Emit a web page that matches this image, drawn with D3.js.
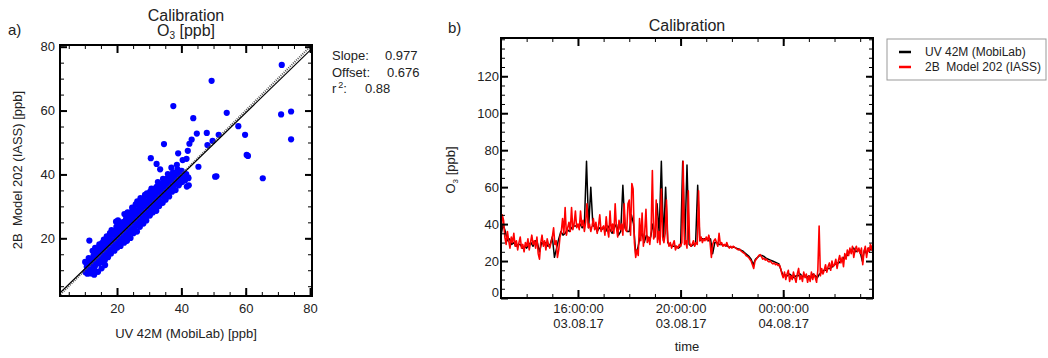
<!DOCTYPE html>
<html>
<head>
<meta charset="utf-8">
<script src="https://cdn.jsdelivr.net/npm/d3@7"></script>
<style>
body { margin: 0; background: #fff; }
svg { font-family: "Liberation Sans", Arial, sans-serif; }
text { fill: #222; }
</style>
</head>
<body>
<svg id="chart" width="1048" height="358"></svg>
<script>
// scatter: [UV 42M, 2B Model 202]
const scatterPoints = [
  [71.2,74.3],[49.4,69.3],[37.5,61.4],[54.1,59.3],[71.0,58.8],[74.1,59.7],[43.7,57.6],[57.7,55.1],
  [47.9,53.0],[44.8,52.8],[51.6,52.4],[59.8,52.4],[43.2,50.9],[42.5,49.6],[49.7,50.5],[48.1,49.2],
  [74.1,51.0],[34.6,49.5],[39.0,46.6],[42.0,47.4],[60.3,46.1],[60.7,45.8],[30.5,45.1],[40.4,44.5],
  [41.6,44.9],[32.3,43.3],[45.3,42.4],[50.5,39.3],[50.9,39.4],[65.3,38.8],[41.7,36.2],[42.2,38.8],
  [11.4,19.3],[19.7,25.2],[33.4,41.6],[38.6,43.0],[36.9,42.1],
  [10.2,9.4],[10.6,11.1],[10.1,12.6],[10.8,8.9],[11.3,10.3],[11.6,12.2],[11.2,13.8],[11.9,9.0],
  [12.2,10.1],[12.5,11.6],[12.1,13.2],[12.7,14.6],[12.4,16.1],[12.9,8.6],[13.3,9.6],[13.1,11.2],
  [13.6,12.5],[13.4,14.1],[13.8,15.6],[13.2,17.0],[14.1,9.5],[14.3,12.1],[14.6,13.4],[14.2,15.1],
  [14.8,16.6],[14.5,18.1],[15.2,10.6],[15.3,12.6],[15.6,14.1],[15.1,15.4],[15.7,17.1],[15.4,18.6],
  [15.9,19.6],[16.2,13.1],[16.5,14.6],[16.1,16.0],[16.7,17.4],[16.4,19.1],[16.8,20.6],[16.3,11.6],
  [17.2,14.1],[17.6,15.5],[17.1,17.1],[17.5,18.6],[17.3,20.1],[17.8,21.6],[18.1,15.2],[18.4,16.6],
  [18.7,18.1],[18.2,19.4],[18.6,21.1],[18.3,22.6],[19.2,16.1],[19.5,17.6],[19.1,19.1],[19.7,20.6],
  [19.4,22.0],[19.8,23.6],[20.1,17.1],[20.5,18.6],[20.2,20.1],[20.7,21.4],[20.4,23.1],[20.8,24.6],
  [20.3,25.6],[21.1,17.6],[21.6,19.1],[21.2,20.6],[21.5,22.1],[21.3,23.6],[21.8,25.1],[22.2,18.6],
  [22.5,20.1],[22.1,21.6],[22.7,23.1],[22.4,24.6],[22.8,26.1],[22.3,27.6],[23.1,19.2],[23.5,21.1],
  [23.2,22.6],[23.7,24.1],[23.4,25.6],[23.8,27.0],[23.3,28.1],[24.2,20.1],[24.6,22.1],[24.1,23.6],
  [24.5,25.1],[24.8,26.6],[24.3,28.1],[24.7,29.6],[25.1,21.6],[25.4,23.1],[25.7,24.6],[25.2,26.1],
  [25.6,27.6],[25.3,29.1],[25.8,30.6],[26.2,22.1],[26.5,24.1],[26.1,25.6],[26.7,27.1],[26.4,28.6],
  [26.8,30.1],[26.3,31.6],[27.1,23.6],[27.5,25.1],[27.2,26.6],[27.7,28.1],[27.4,29.6],[27.8,31.1],
  [27.3,32.6],[28.2,24.6],[28.6,26.1],[28.1,27.6],[28.5,29.1],[28.8,30.6],[28.3,32.1],[28.7,33.6],
  [29.1,25.6],[29.5,27.1],[29.2,28.6],[29.7,30.1],[29.4,31.6],[29.8,33.1],[29.3,34.1],[30.2,27.1],
  [30.6,28.6],[30.1,30.1],[30.5,31.6],[30.8,33.1],[30.3,34.6],[30.7,35.6],[31.1,28.1],[31.5,29.6],
  [31.2,31.1],[31.7,32.6],[31.4,34.1],[31.8,35.6],[32.2,28.6],[32.6,30.1],[32.1,31.6],[32.5,33.1],
  [32.8,34.6],[32.3,36.1],[32.7,37.6],[33.1,30.1],[33.5,31.6],[33.2,33.1],[33.7,34.6],[33.4,36.1],
  [33.8,37.1],[34.2,31.1],[34.6,33.1],[34.1,34.6],[34.5,36.1],[34.8,37.6],[34.3,38.6],[35.1,32.1],
  [35.5,34.1],[35.2,35.6],[35.7,37.1],[35.4,38.6],[35.8,40.1],[36.2,33.1],[36.6,35.1],[36.1,36.6],
  [36.5,38.1],[36.8,39.6],[37.1,34.6],[37.5,36.1],[37.2,37.6],[37.7,39.1],[37.4,40.6],[38.2,35.1],
  [38.6,37.1],[38.1,38.6],[38.5,40.1],[38.8,41.6],[39.2,36.6],[39.6,38.6],[39.1,40.1],[40.2,37.6],
  [40.6,39.1],[40.1,41.1],[41.1,38.1],[41.5,40.1],[42.3,36.6],[42.1,39.1]
];
const fitSlope = 0.977, fitOffset = 0.676, fitR2 = 0.88;
const scatterTicks = [20, 40, 60, 80];

// time series from 13:00 on 03.08.17
const seriesStart = "2017-08-03 13:00";
const uvStepMinutes = 5;
const uvSeries = [
  34, 40, 36, 31, 32, 29, 30, 28, 29, 29, 27, 28,
  27, 29, 30, 28, 31, 30, 25, 30, 29, 30, 28, 29,
  33, 22, 27, 32, 36, 34, 35, 37, 36, 38, 39, 39,
  39, 40, 38, 40, 74, 38, 60, 39, 39, 36, 38, 37,
  38, 36, 39, 37, 35, 38, 40, 34, 36, 61, 38, 36,
  36, 45, 40, 24, 27, 33, 35, 30, 34, 32, 33, 40,
  33, 51, 35, 74, 31, 60, 30, 29, 28, 28, 28, 27,
  28, 74, 30, 72, 29, 28, 29, 29, 61, 31, 32, 32,
  32, 31, 32, 24, 30, 30, 29, 29, 28.5, 28.5, 28, 27.5,
  27.5, 27.5, 27, 26.5, 26, 25.5, 24.5, 23.5, 22.5, 21, 18, 21,
  22, 23, 23, 22.5, 21.5, 21, 20.5, 20, 19.5, 19, 18.5, 15,
  12, 12.5, 12, 13, 12, 11, 12, 12, 13, 11.5, 12, 11,
  12, 11, 13, 12, 11, 13, 14, 15, 15, 16, 16, 17,
  18, 19, 19, 20, 21, 23, 23, 25, 26, 27, 25, 26,
  25, 20, 26, 24, 27, 26, 29
];
const bbStepMinutes = 3;
const bbSeries = [
  34, 45, 42, 33, 29, 36, 31, 27, 33, 30, 35, 28, 31, 26, 30, 33, 27, 29, 25, 30,
  28, 32, 26, 30, 34, 29, 31, 27, 33, 24, 21, 30, 34, 28, 31, 26, 32, 29, 27, 30,
  33, 38, 29, 31, 22, 26, 33, 36, 43, 35, 49, 34, 38, 41, 36, 49, 37, 40, 47, 38,
  40, 37, 47, 39, 42, 36, 41, 51, 38, 40, 36, 39, 43, 37, 41, 35, 39, 45, 36, 38,
  39, 34, 44, 37, 33, 47, 36, 40, 35, 51, 38, 33, 42, 37, 40, 34, 51, 37, 36, 51,
  53, 34, 62, 59, 30, 22, 26, 23, 43, 31, 46, 28, 35, 48, 30, 33, 29, 36, 69, 32,
  34, 53, 30, 36, 29, 59, 33, 30, 35, 53, 31, 28, 30, 27, 29, 31, 26, 28, 27, 29,
  28, 30, 74, 29, 31, 27, 58, 30, 28, 29, 31, 28, 30, 29, 58, 31, 33, 30, 32, 31,
  33, 31, 34, 30, 22, 29, 31, 32, 30, 28, 35, 29, 30, 28, 29, 28, 30, 28, 27, 28,
  27, 28, 27.5, 27, 26.5, 26, 26.5, 25.5, 25, 24.5, 24, 23, 22.5, 22, 21, 20, 18, 16, 20, 21,
  22, 23, 23.5, 22.5, 21, 21.5, 20.5, 21, 20, 19.5, 20, 19, 18.5, 19, 18, 18.5, 17.5, 18, 16, 13,
  11, 14, 10, 13, 15, 9, 12, 10, 14, 11, 8.5, 13, 16, 10, 12, 9, 14, 11, 13, 8.5,
  12, 9, 14, 10, 13, 11, 8.5, 15, 39, 12, 16, 13, 15, 18, 14, 17, 19, 15, 20, 17,
  18, 21, 16, 20, 23, 19, 22, 17, 24, 21, 26, 23, 27, 24, 28, 22, 26, 28, 25, 27,
  24, 27, 18, 25, 28, 22, 27, 25, 29, 26, 29.5
];
const seriesNames = ["UV 42M (MobiLab)", "2B  Model 202 (IASS)"];
const seriesColors = ["#000", "#f00"];
const timeMajor = ["2017-08-03 16:00", "2017-08-03 20:00", "2017-08-04 00:00"];
const timeDomain = ["2017-08-03 13:00", "2017-08-04 03:30"];
const o3Ticks = [0, 20, 40, 60, 80, 100, 120];

const parse = d3.timeParse("%Y-%m-%d %H:%M");
const svg = d3.select("#chart");

function tickSide(axisFn, scale, values, size, width, transform) {
  svg.append("g")
    .attr("transform", transform)
    .call(axisFn(scale).tickValues(values).tickSize(-size).tickFormat(""))
    .call(g => g.select(".domain").remove())
    .call(g => g.selectAll("line").attr("stroke", "#000").attr("stroke-width", width));
}

function frameTicks(box, x, y, xMinor, xMajor, yMinor, yMajor) {
  [[xMinor, 4, 1], [xMajor, 8, 2]].forEach(([v, s, w]) => {
    tickSide(d3.axisBottom, x, v, s, w, `translate(0,${box.bottom})`);
    tickSide(d3.axisTop, x, v, s, w, `translate(0,${box.top})`);
  });
  [[yMinor, 4, 1], [yMajor, 7, 2]].forEach(([v, s, w]) => {
    tickSide(d3.axisLeft, y, v, s, w, `translate(${box.left},0)`);
    tickSide(d3.axisRight, y, v, s, w, `translate(${box.right},0)`);
  });
  svg.append("rect")
    .attr("x", box.left).attr("y", box.top)
    .attr("width", box.right - box.left).attr("height", box.bottom - box.top)
    .attr("fill", "none").attr("stroke", "#000").attr("stroke-width", 2);
}

function labelAxis(axis, transform) {
  const g = svg.append("g")
    .attr("transform", transform)
    .call(axis.tickSize(0))
    .call(g => g.select(".domain").remove())
    .attr("font-family", null).attr("font-size", 13);
  g.selectAll("text").attr("fill", "#222");
  return g;
}

// ---- a) scatter
const sc = {left: 60, top: 45, right: 312, bottom: 296};
const sx = d3.scaleLinear().domain([2.28, 80.6]).range([sc.left, sc.right]);
const sy = d3.scaleLinear().domain([1.93, 80.53]).range([sc.bottom, sc.top]);
const fives = d3.range(5, 81, 5);

svg.append("clipPath").attr("id", "clipA")
  .append("rect").attr("x", sc.left).attr("y", sc.top)
  .attr("width", sc.right - sc.left).attr("height", sc.bottom - sc.top);

svg.append("g").attr("clip-path", "url(#clipA)")
  .selectAll("circle")
  .data(scatterPoints)
  .join("circle")
  .attr("cx", d => sx(d[0]))
  .attr("cy", d => sy(d[1]))
  .attr("r", 3.1)
  .attr("fill", "#0000ff");

const lineA = svg.append("g").attr("clip-path", "url(#clipA)");
lineA.append("line")
  .attr("x1", sx(0)).attr("y1", sy(0)).attr("x2", sx(85)).attr("y2", sy(85))
  .attr("stroke", "#555").attr("stroke-width", 2).attr("stroke-dasharray", "1,1.2");
lineA.append("line")
  .attr("x1", sx(0)).attr("y1", sy(fitOffset)).attr("x2", sx(85)).attr("y2", sy(fitSlope * 85 + fitOffset))
  .attr("stroke", "#000").attr("stroke-width", 1.2);

frameTicks(sc, sx, sy, fives, scatterTicks, fives, scatterTicks);
labelAxis(d3.axisBottom(sx).tickValues(scatterTicks).tickPadding(7.5), `translate(0,${sc.bottom})`);
labelAxis(d3.axisLeft(sy).tickValues(scatterTicks).tickPadding(5), `translate(${sc.left},0)`);

svg.append("text").attr("x", 8).attr("y", 35).attr("font-size", 15).text("a)");
svg.append("text").attr("x", 186).attr("y", 21).attr("font-size", 16)
  .attr("text-anchor", "middle").text("Calibration");
const subA = svg.append("text").attr("x", 186).attr("y", 36).attr("font-size", 16).attr("text-anchor", "middle");
subA.append("tspan").text("O");
subA.append("tspan").attr("font-size", 10).attr("dy", 3).text("3");
subA.append("tspan").attr("dy", -3).text(" [ppb]");

svg.append("text").attr("x", 186).attr("y", 338).attr("font-size", 13)
  .attr("text-anchor", "middle").text("UV 42M (MobiLab) [ppb]");
svg.append("text").attr("transform", "translate(22,170) rotate(-90)").attr("font-size", 13)
  .attr("text-anchor", "middle").style("white-space", "pre").text("2B  Model 202 (IASS) [ppb]");

const stats = [["Slope:", fitSlope.toFixed(3), 385], ["Offset:", fitOffset.toFixed(3), 387], ["r", fitR2.toFixed(2), 365]];
stats.forEach(([lab, val, vx], i) => {
  const y = 60 + i * 16.5;
  const t = svg.append("text").attr("x", 332).attr("y", y).attr("font-size", 13).text(lab);
  if (lab === "r") {
    t.append("tspan").attr("font-size", 9).attr("dy", -5).attr("dx", 2).text("2");
    t.append("tspan").attr("dy", 5).text(":");
  }
  svg.append("text").attr("x", vx).attr("y", y).attr("font-size", 13).text(val);
});

// ---- b) time series
const tb = {left: 501, top: 38, right: 873, bottom: 298};
const start = parse(seriesStart);
const tx = d3.scaleTime().domain(timeDomain.map(parse)).range([tb.left, tb.right]);
const ty = d3.scaleLinear().domain([0, 140.7]).range([tb.bottom, tb.top]);

svg.append("clipPath").attr("id", "clipB")
  .append("rect").attr("x", tb.left).attr("y", tb.top)
  .attr("width", tb.right - tb.left).attr("height", tb.bottom - tb.top);

const lines = svg.append("g").attr("clip-path", "url(#clipB)");
[[uvSeries, uvStepMinutes, 1.5], [bbSeries, bbStepMinutes, 1.6]].forEach(([s, step, w], k) => {
  const line = d3.line()
    .x((d, i) => tx(d3.timeMinute.offset(start, i * step)))
    .y(d => ty(d));
  lines.append("path")
    .attr("d", line(s))
    .attr("fill", "none")
    .attr("stroke", seriesColors[k])
    .attr("stroke-width", w)
    .attr("stroke-linejoin", "round");
});

const hours = d3.timeHour.range(tx.domain()[0], tx.domain()[1]);
const majors = timeMajor.map(parse);
frameTicks(tb, tx, ty, hours, majors, d3.range(0, 141, 5), o3Ticks);

const xl = labelAxis(d3.axisBottom(tx).tickValues(majors).tickPadding(6), `translate(0,${tb.bottom})`);
xl.selectAll("text").text(null).each(function (d) {
  const t = d3.select(this);
  t.append("tspan").attr("x", 0).attr("dy", "0.71em").text(d3.timeFormat("%H:%M:%S")(d));
  t.append("tspan").attr("x", 0).attr("dy", "1.12em").text(d3.timeFormat("%d.%m.%y")(d));
});
xl.selectAll("text").attr("dy", null);

const yl = labelAxis(d3.axisLeft(ty).tickValues(o3Ticks).tickPadding(2), `translate(${tb.left},0)`);
yl.selectAll("text").filter(d => d === 0).attr("dy", "-0.08em");

svg.append("text").attr("x", 448).attr("y", 33).attr("font-size", 15).text("b)");
svg.append("text").attr("x", 687).attr("y", 31).attr("font-size", 16)
  .attr("text-anchor", "middle").text("Calibration");
svg.append("text").attr("x", 687).attr("y", 351).attr("font-size", 13)
  .attr("text-anchor", "middle").text("time");
const subB = svg.append("text").attr("transform", "translate(455,170) rotate(-90)")
  .attr("font-size", 13).attr("text-anchor", "middle");
subB.append("tspan").text("O");
subB.append("tspan").attr("font-size", 8).attr("dy", 3).text("3");
subB.append("tspan").attr("dy", -3).text(" [ppb]");

// legend
const lg = svg.append("g").attr("transform", "translate(887,39)");
lg.append("rect").attr("width", 159).attr("height", 41)
  .attr("fill", "#fff").attr("stroke", "#999").attr("stroke-width", 1);
seriesNames.forEach((name, i) => {
  lg.append("line").attr("x1", 12).attr("x2", 24).attr("y1", 13 + i * 15).attr("y2", 13 + i * 15)
    .attr("stroke", seriesColors[i]).attr("stroke-width", 2.5);
  lg.append("text").attr("x", 38).attr("y", 17 + i * 15).attr("font-size", 12)
    .style("white-space", "pre").text(name);
});
</script>
</body>
</html>
